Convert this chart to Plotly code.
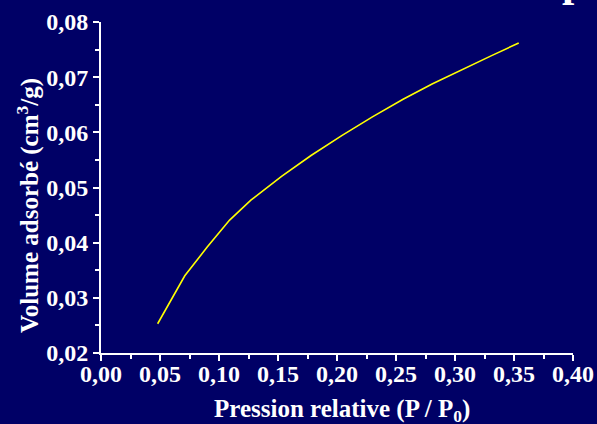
import plotly.graph_objects as go

pression = [0.048, 0.071, 0.090, 0.109, 0.127, 0.153, 0.178, 0.204, 0.230, 0.256, 0.281, 0.306, 0.331, 0.354]
volume = [0.0253, 0.0340, 0.0392, 0.0441, 0.0477, 0.0520, 0.0558, 0.0594, 0.0628, 0.0660, 0.0688, 0.0714, 0.0739, 0.0762]

bg = "#000066"
font_fam = "Liberation Serif"

fig = go.Figure()
fig.add_trace(go.Scatter(x=pression, y=volume, mode="lines",
                         line=dict(color="#FFFF00", width=1.6), hoverinfo="skip"))

axis_common = dict(
    showgrid=False, zeroline=False, showline=True, linecolor="white", linewidth=2,
    ticks="outside", ticklen=6, tickwidth=2, tickcolor="white",
    tickfont=dict(family=font_fam, size=24, color="white"),
    tickformat=".2f", tickprefix="<b>", ticksuffix="</b>", automargin=False,
)

fig.update_layout(
    width=597, height=424,
    paper_bgcolor=bg, plot_bgcolor=bg,
    separators=", ",
    margin=dict(l=101, r=24, t=22, b=71),
    showlegend=False,
    font=dict(family=font_fam, color="white"),
    xaxis=dict(range=[0, 0.40], dtick=0.05, tick0=0, ticklabelstandoff=-8,
               minor=dict(ticks="outside", ticklen=4, tickwidth=2, tickcolor="white", dtick=0.025),
               **axis_common),
    yaxis=dict(range=[0.02, 0.08], dtick=0.01, tick0=0.02,
               minor=dict(ticks="outside", ticklen=4, tickwidth=2, tickcolor="white", dtick=0.005),
               **axis_common),
)

fig.add_annotation(text="<b>Pression relative (P / P<sub>0</sub>)</b>", xref="paper", yref="paper",
                   x=0.511, y=-0.227, xanchor="center", yanchor="bottom", showarrow=False,
                   font=dict(family=font_fam, size=25, color="white"))
fig.add_annotation(text="<b>Volume adsorbé (cm<sup>3</sup>/g)</b>", xref="paper", yref="paper",
                   x=-0.1547, y=0.447, xanchor="center", yanchor="middle", showarrow=False,
                   textangle=-90, font=dict(family=font_fam, size=25, color="white"))

fig.add_annotation(text="<b>p</b>", xref="paper", yref="paper", x=1.003, y=1.042,
                   xanchor="center", yanchor="bottom", showarrow=False,
                   font=dict(family=font_fam, size=44, color="white"))

fig.write_html("out.html")
